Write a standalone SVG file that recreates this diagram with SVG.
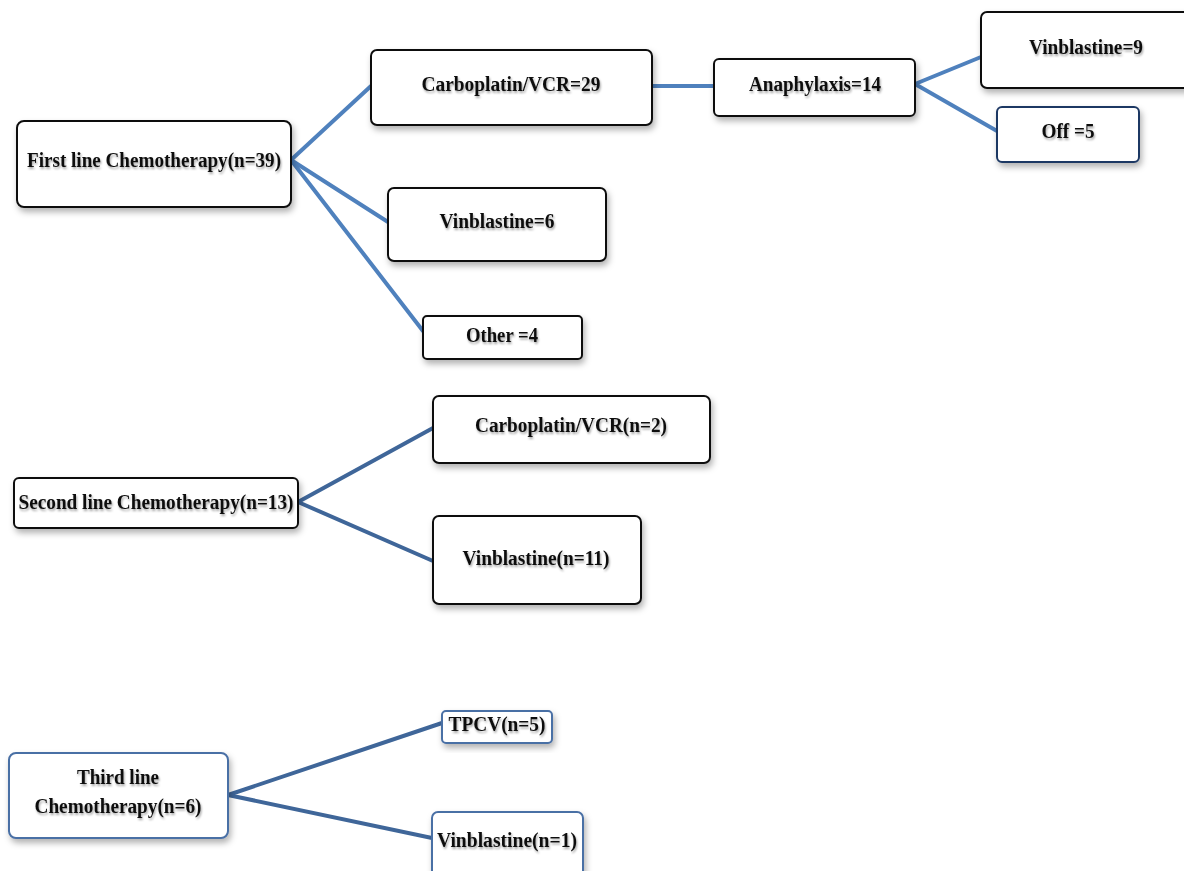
<svg xmlns="http://www.w3.org/2000/svg" width="1184" height="871" viewBox="0 0 1184 871">
<defs>
<filter id="sh" x="-10%" y="-10%" width="130%" height="140%">
<feDropShadow dx="2" dy="4" stdDeviation="3" flood-color="#000" flood-opacity="0.3"/>
</filter>
<filter id="tsh" x="-5%" y="-20%" width="115%" height="160%">
<feDropShadow dx="1" dy="2" stdDeviation="1.2" flood-color="#000" flood-opacity="0.35"/>
</filter>
</defs>
<style>
.box{fill:#fff;stroke:#111;stroke-width:2;filter:url(#sh)}
.bbox{fill:#fff;stroke:#1f3864;stroke-width:2;filter:url(#sh)}
.lbox{fill:#fff;stroke:#4a6fa5;stroke-width:2;filter:url(#sh)}
.t{font-family:"Liberation Serif",serif;font-weight:bold;font-size:20px;fill:#111;text-anchor:middle;filter:url(#tsh)}
.c1{stroke:#4f81bd;stroke-width:4;fill:none;stroke-linecap:round}
.c2{stroke:#3f6699;stroke-width:4;fill:none;stroke-linecap:round}
</style>
<rect width="1184" height="871" fill="#fff"/>
<g id="connectors">
<line class="c1" x1="291" y1="160" x2="371" y2="86"/>
<line class="c1" x1="291" y1="160" x2="388" y2="222"/>
<line class="c1" x1="291" y1="160" x2="423" y2="331"/>
<line class="c1" x1="652" y1="86" x2="714" y2="86"/>
<line class="c1" x1="915" y1="84" x2="981" y2="57"/>
<line class="c1" x1="915" y1="84" x2="997" y2="131"/>
<line class="c2" x1="298" y1="502" x2="433" y2="428"/>
<line class="c2" x1="298" y1="502" x2="433" y2="561"/>
<line class="c2" x1="228" y1="795" x2="442" y2="723"/>
<line class="c2" x1="228" y1="795" x2="432" y2="838"/>
</g>
<g id="first">
<rect class="box" x="17" y="121" width="274" height="86" rx="7"/>
<text class="t" x="154" y="167" textLength="254" lengthAdjust="spacingAndGlyphs">First line Chemotherapy(n=39)</text>
</g>
<g id="carbo29">
<rect class="box" x="371" y="50" width="281" height="75" rx="6"/>
<text class="t" x="511" y="91" textLength="179" lengthAdjust="spacingAndGlyphs">Carboplatin/VCR=29</text>
</g>
<g id="anaph">
<rect class="box" x="714" y="59" width="201" height="57" rx="5"/>
<text class="t" x="815" y="91" textLength="132" lengthAdjust="spacingAndGlyphs">Anaphylaxis=14</text>
</g>
<g id="vinb9">
<rect class="box" x="981" y="12" width="215" height="76" rx="6"/>
<text class="t" x="1086" y="54" textLength="114" lengthAdjust="spacingAndGlyphs">Vinblastine=9</text>
</g>
<g id="off5">
<rect class="bbox" x="997" y="107" width="142" height="55" rx="5"/>
<text class="t" x="1068" y="138" textLength="53" lengthAdjust="spacingAndGlyphs">Off =5</text>
</g>
<g id="vinb6">
<rect class="box" x="388" y="188" width="218" height="73" rx="6"/>
<text class="t" x="497" y="228" textLength="115" lengthAdjust="spacingAndGlyphs">Vinblastine=6</text>
</g>
<g id="other4">
<rect class="box" x="423" y="316" width="159" height="43" rx="4"/>
<text class="t" x="502" y="342" textLength="72" lengthAdjust="spacingAndGlyphs">Other =4</text>
</g>
<g id="second">
<rect class="box" x="14" y="478" width="284" height="50" rx="5"/>
<text class="t" x="156" y="509" textLength="275" lengthAdjust="spacingAndGlyphs">Second line Chemotherapy(n=13)</text>
</g>
<g id="carbo2">
<rect class="box" x="433" y="396" width="277" height="67" rx="6"/>
<text class="t" x="571" y="432" textLength="192" lengthAdjust="spacingAndGlyphs">Carboplatin/VCR(n=2)</text>
</g>
<g id="vinb11">
<rect class="box" x="433" y="516" width="208" height="88" rx="6"/>
<text class="t" x="536" y="565" textLength="147" lengthAdjust="spacingAndGlyphs">Vinblastine(n=11)</text>
</g>
<g id="third">
<rect class="lbox" x="9" y="753" width="219" height="85" rx="7"/>
<text class="t" x="118" y="784" textLength="82" lengthAdjust="spacingAndGlyphs">Third line</text>
<text class="t" x="118" y="813" textLength="167" lengthAdjust="spacingAndGlyphs">Chemotherapy(n=6)</text>
</g>
<g id="tpcv">
<rect class="lbox" x="442" y="711" width="110" height="32" rx="4"/>
<text class="t" x="497" y="731" textLength="97" lengthAdjust="spacingAndGlyphs">TPCV(n=5)</text>
</g>
<g id="vinb1">
<rect class="lbox" x="432" y="812" width="151" height="70" rx="6"/>
<text class="t" x="507" y="847" textLength="140" lengthAdjust="spacingAndGlyphs">Vinblastine(n=1)</text>
</g>
</svg>
